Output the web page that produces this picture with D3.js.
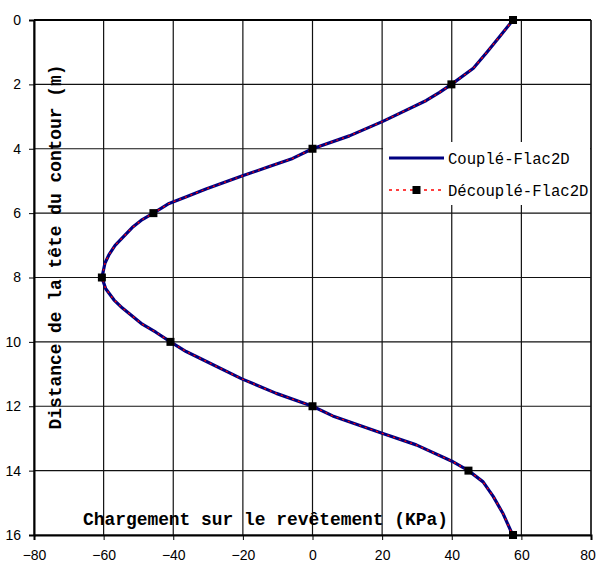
<!DOCTYPE html>
<html><head><meta charset="utf-8">
<script src="https://cdn.jsdelivr.net/npm/d3@7"></script>
<style>body{margin:0;background:#fff}svg{display:block}</style>
</head><body>
<svg id="c" width="596" height="575"></svg>
<script>
// Data
const xTicks = [-80, -60, -40, -20, 0, 20, 40, 60, 80];
const yTicks = [0, 2, 4, 6, 8, 10, 12, 14, 16];
const coupleDepth = [0, 0.5, 1.0, 1.5, 2.0, 2.25, 2.5, 2.9, 3.15, 3.6, 4.0, 4.3, 4.55, 4.85, 5.25, 5.5, 5.7, 6.0, 6.2, 6.45, 7.0, 7.3, 7.55, 8.0, 8.35, 8.7, 8.95, 9.45, 9.7, 10.0, 10.3, 10.6, 11.15, 11.6, 12.0, 12.3, 12.85, 13.2, 13.7, 14.0, 14.35, 14.8, 15.35, 16.0];
const coupleValue = [57.6, 53.9, 50.1, 46.2, 39.9, 36.5, 32.7, 25.0, 20.2, 10.6, 0, -5.7, -12.4, -20.3, -30.6, -36.4, -41.2, -45.7, -48.9, -51.8, -56.7, -58.5, -59.6, -60.5, -59.4, -57.0, -54.6, -48.9, -45.0, -40.8, -36.3, -30.6, -20.3, -10.4, 0, 5.8, 20.2, 29.8, 39.9, 44.8, 49.0, 51.9, 54.8, 57.5];
const decoupleDepth = coupleDepth.slice();
const decoupleValue = coupleValue.slice();
const markerDepth = [0, 2, 4, 6, 8, 10, 12, 14, 16];
const markerValue = [57.6, 39.9, 0, -45.7, -60.5, -40.8, 0, 44.8, 57.6];
const seriesNames = ["Couplé-Flac2D", "Découplé-Flac2D"];
const xTitle = "Chargement sur le revêtement (KPa)";
const yTitle = "Distance de la tête du contour (m)";

const svg = d3.select("#c");
const L = 34, R = 591, T = 20, B = 535;
const x = d3.scaleLinear().domain([-80, 80]).range([L, R]);
const y = d3.scaleLinear().domain([0, 16]).range([T, B]);

// grid
const g = svg.append("g");
g.selectAll(".vg").data(xTicks).join("line")
  .attr("x1", d => x(d)).attr("x2", d => x(d)).attr("y1", T).attr("y2", B)
  .attr("stroke", "#111").attr("stroke-width", 1.2);
g.selectAll(".hg").data(yTicks).join("line")
  .attr("y1", d => y(d)).attr("y2", d => y(d)).attr("x1", L).attr("x2", R)
  .attr("stroke", "#111").attr("stroke-width", 1.2);

// axes
const ax = svg.append("g").attr("transform", `translate(0,${B})`)
  .call(d3.axisBottom(x).tickValues(xTicks).tickSize(5).tickPadding(10).tickFormat(d3.format("d")));
ax.select(".domain").attr("stroke", "#000").attr("stroke-width", 2);
ax.selectAll("text").attr("font-family", "Liberation Sans, Arial, sans-serif").attr("font-size", 14).attr("fill", "#000");
ax.selectAll(".tick").filter(d => d === 80).select("text").attr("dx", -3.5);
const ay = svg.append("g").attr("transform", `translate(${L},0)`)
  .call(d3.axisLeft(y).tickValues(yTicks).tickSize(5).tickPadding(8).tickFormat(d3.format("d")));
ay.select(".domain").attr("stroke", "#000").attr("stroke-width", 2);
ay.selectAll("text").attr("font-family", "Liberation Sans, Arial, sans-serif").attr("font-size", 14).attr("fill", "#000");
// top border
svg.append("line").attr("x1", L).attr("x2", R).attr("y1", T).attr("y2", T).attr("stroke", "#000").attr("stroke-width", 2);
svg.append("line").attr("x1", R).attr("x2", R).attr("y1", T).attr("y2", B).attr("stroke", "#111").attr("stroke-width", 1.2);

// lines
const line = d3.line().x(d => x(d[1])).y(d => y(d[0]));
svg.append("path").datum(coupleDepth.map((d, i) => [d, coupleValue[i]]))
  .attr("d", line).attr("fill", "none").attr("stroke", "#000080").attr("stroke-width", 3.2)
  .attr("stroke-linejoin", "round");
svg.append("path").datum(decoupleDepth.map((d, i) => [d, decoupleValue[i]]))
  .attr("d", line).attr("fill", "none").attr("stroke", "#ff0000").attr("stroke-width", 1.3)
  .attr("stroke-dasharray", "2,4");
svg.selectAll(".mk").data(markerDepth.map((d, i) => [d, markerValue[i]])).join("rect")
  .attr("x", d => x(d[1]) - 4).attr("y", d => y(d[0]) - 4).attr("width", 8).attr("height", 8)
  .attr("fill", "#000");

// legend
const lg = svg.append("g");
lg.append("rect").attr("x", 383).attr("y", 142).attr("width", R - 383 - 1).attr("height", 63).attr("fill", "#fff");
lg.append("line").attr("x1", 389).attr("x2", 444).attr("y1", 158).attr("y2", 158)
  .attr("stroke", "#000080").attr("stroke-width", 3.2);
lg.append("line").attr("x1", 389).attr("x2", 444).attr("y1", 190).attr("y2", 190)
  .attr("stroke", "#ff0000").attr("stroke-width", 1.5).attr("stroke-dasharray", "3,4");
lg.append("rect").attr("x", 412.5).attr("y", 186).attr("width", 8).attr("height", 8).attr("fill", "#000");
lg.selectAll("text").data(seriesNames).join("text")
  .attr("x", 448).attr("y", (d, i) => 164 + i * 32)
  .attr("font-family", "Liberation Mono, Courier New, monospace").attr("font-size", 15.6)
  .attr("fill", "#000").text(d => d);

// titles
svg.append("text").attr("x", 265.5).attr("y", 525).attr("text-anchor", "middle")
  .attr("font-family", "Liberation Mono, Courier New, monospace").attr("font-weight", "bold")
  .attr("font-size", 17.9).attr("fill", "#000").text(xTitle);
svg.append("text").attr("transform", "translate(61,247) rotate(-90)").attr("text-anchor", "middle")
  .attr("font-family", "Liberation Mono, Courier New, monospace").attr("font-weight", "bold")
  .attr("font-size", 17.9).attr("fill", "#000").text(yTitle);
</script>
</body></html>
